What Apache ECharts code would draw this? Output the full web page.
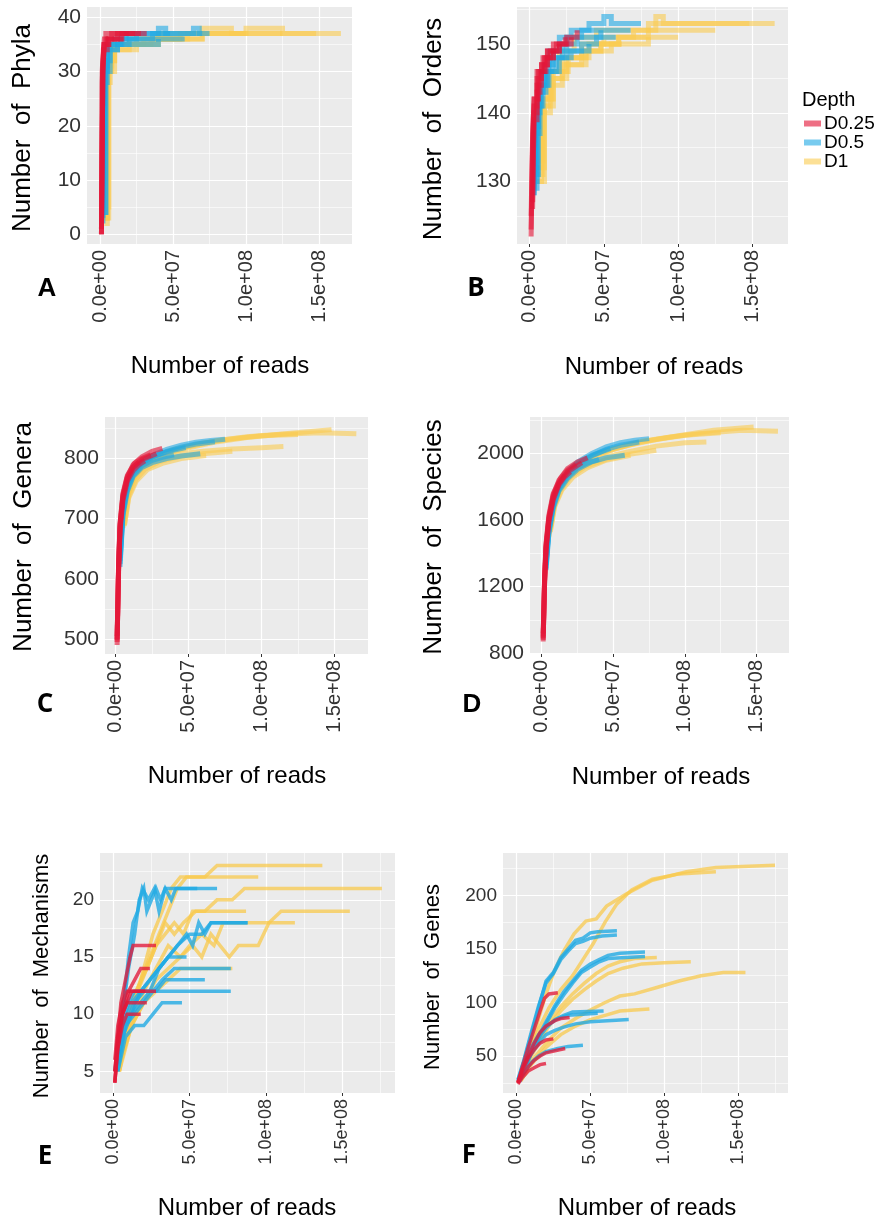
<!DOCTYPE html>
<html><head><meta charset="utf-8">
<script src="https://cdn.jsdelivr.net/npm/echarts@6/dist/echarts.min.js"></script>
<style>html,body{margin:0;padding:0;background:#fff}#c{width:875px;height:1220px}</style>
</head><body><div id="c"></div>
<script>
// ---------- DATA (x = millions of reads) ----------
const depths = ['D0.25', 'D0.5', 'D1'];
const xTickValues = [0, 50, 100, 150];

const phylaTicks = [0, 10, 20, 30, 40];
const phylaD025 = [
  [[1,0],[1.5,30],[2.5,35],[4,37],[32,37]],
  [[1,0],[1.5,28],[2.5,34],[5,36],[12,37],[28,37]],
  [[1,1],[2,30],[3,35],[6,36],[15,37],[24,37]],
  [[1,0],[2,32],[3,36],[8,37],[20,37]],
  [[1,1],[2,31],[3,35],[6,36],[16,36]]
];
const phylaD05 = [
  [[2,5],[3,30],[5,35],[10,36],[18,37],[40,38],[45,37],[75,37]],
  [[2,3],[3,28],[5,34],[12,35],[20,36],[36,37],[64,38],[68,37],[70,37]],
  [[2,4],[4,32],[7,35],[15,36],[58,36]],
  [[2,2],[3,31],[5,35],[14,36],[25,37],[48,37]],
  [[2,4],[4,30],[7,34],[12,35],[40,36]]
];
const phylaD1 = [
  [[3,3],[5,30],[8,35],[30,36],[60,37],[165,37]],
  [[3,4],[4,28],[7,34],[20,36],[70,37],[100,38],[125,37],[148,37]],
  [[3,2],[5,32],[10,35],[40,36],[70,38],[90,37],[125,37]],
  [[4,5],[6,30],[10,34],[25,36],[55,37],[100,37]],
  [[3,3],[5,31],[8,35],[35,36],[56,36]],
  [[3,3],[6,32],[10,35],[40,37],[62,37]]
];

const ordersTicks = [130, 140, 150];
const ordersD025 = [
  [[1,122],[2,135],[3,141],[5,145],[8,147],[12,149],[18,150],[25,151],[32,152]],
  [[1,123],[2,136],[3,142],[5,146],[9,148],[14,149],[20,150],[28,151]],
  [[1,125],[2,137],[3,142],[6,146],[10,148],[16,150],[24,151]],
  [[2,126],[3,140],[5,144],[8,147],[12,149],[20,150]],
  [[2,127],[3,139],[5,143],[7,146],[11,148],[16,149]]
];
const ordersD05 = [
  [[3,128],[4,138],[6,143],[9,146],[13,149],[20,151],[28,152],[40,153],[50,154],[55,153],[75,153]],
  [[3,129],[5,140],[7,144],[10,147],[16,149],[25,151],[35,152],[68,152]],
  [[3,130],[5,141],[8,144],[12,146],[18,148],[25,149],[35,150],[45,151],[58,151]],
  [[3,128],[4,137],[7,143],[11,146],[15,148],[22,150],[32,151],[48,152]],
  [[4,131],[6,141],[9,144],[13,146],[20,148],[28,149],[40,150]]
];
const ordersD1 = [
  [[5,132],[8,142],[12,146],[20,149],[30,151],[45,152],[80,153],[165,153]],
  [[5,130],[8,141],[13,145],[22,148],[35,150],[50,151],[70,152],[85,154],[90,153],[148,153]],
  [[6,133],[9,142],[15,146],[25,148],[40,150],[60,151],[80,152],[125,152]],
  [[6,131],[9,140],[14,144],[22,147],[35,149],[48,150],[60,151],[100,151]],
  [[6,132],[10,142],[16,146],[26,148],[38,149],[55,150],[80,151]],
  [[6,130],[10,141],[16,145],[25,147],[38,149],[48,150],[62,150]]
];

const generaTicks = [500, 600, 700, 800];
const generaD025 = [
  [[1,490],[2,620],[3,690],[5,740],[8,770],[12,790],[18,803],[25,812],[32,817]],
  [[1,495],[2,615],[3,685],[5,735],[8,765],[12,785],[18,798],[28,808]],
  [[1,500],[2,625],[3,692],[5,742],[8,772],[13,792],[18,800],[24,806]],
  [[1,505],[2,610],[3,680],[5,730],[8,762],[12,780],[16,790],[20,796]],
  [[1,498],[2,618],[3,688],[5,738],[8,768],[12,786],[16,794]]
];
const generaD05 = [
  [[3,640],[5,720],[8,758],[12,780],[18,795],[25,805],[35,815],[45,822],[55,827],[65,830],[75,832]],
  [[3,630],[5,712],[8,752],[12,776],[18,792],[25,802],[35,812],[45,819],[55,824],[68,828]],
  [[3,620],[5,705],[8,745],[12,770],[18,785],[25,793],[35,800],[45,804],[58,808]],
  [[3,635],[5,715],[8,755],[12,778],[18,793],[25,803],[35,811],[48,818]],
  [[3,625],[5,708],[8,748],[12,772],[18,788],[25,797],[32,802],[40,806]]
];
const generaD1 = [
  [[5,690],[8,740],[12,768],[18,788],[25,800],[35,810],[50,820],[70,830],[90,836],[110,840],[140,843],[165,841]],
  [[5,685],[8,735],[12,765],[18,785],[25,798],[35,808],[50,818],[70,828],[90,835],[120,842],[148,848]],
  [[5,695],[8,742],[12,770],[18,790],[25,802],[40,815],[60,826],[80,833],[100,838],[125,840]],
  [[6,700],[9,745],[13,770],[20,788],[30,800],[45,808],[60,812],[80,816],[100,818],[115,820]],
  [[6,690],[9,738],[14,766],[20,782],[30,795],[45,804],[60,808],[80,812]],
  [[6,688],[9,735],[14,762],[22,782],[32,792],[45,800],[62,805]]
];

const speciesTicks = [800, 1200, 1600, 2000];
const speciesD025 = [
  [[1,870],[2,1250],[3,1450],[5,1620],[8,1750],[12,1840],[18,1910],[25,1950],[32,1975]],
  [[1,880],[2,1230],[3,1430],[5,1600],[8,1730],[12,1820],[18,1890],[28,1945]],
  [[1,900],[2,1260],[3,1460],[5,1630],[8,1760],[13,1850],[18,1900],[24,1935]],
  [[1,920],[2,1220],[3,1420],[5,1590],[8,1720],[12,1810],[16,1860],[20,1890]],
  [[1,890],[2,1240],[3,1440],[5,1610],[8,1740],[12,1825],[16,1870]]
];
const speciesD05 = [
  [[3,1350],[5,1560],[8,1710],[12,1810],[18,1890],[25,1950],[35,2000],[45,2040],[55,2065],[65,2080],[75,2090]],
  [[3,1330],[5,1540],[8,1690],[12,1795],[18,1875],[25,1935],[35,1985],[45,2025],[55,2050],[68,2070]],
  [[3,1300],[5,1520],[8,1670],[12,1775],[18,1850],[25,1905],[35,1950],[45,1975],[58,1990]],
  [[3,1340],[5,1550],[8,1700],[12,1800],[18,1880],[25,1940],[35,1990],[48,2030]],
  [[3,1310],[5,1530],[8,1680],[12,1785],[18,1860],[25,1915],[32,1945],[40,1965]]
];
const speciesD1 = [
  [[5,1520],[8,1680],[12,1790],[18,1870],[25,1930],[35,1985],[50,2030],[70,2075],[90,2100],[110,2120],[140,2140],[165,2135]],
  [[5,1500],[8,1665],[12,1780],[18,1860],[25,1920],[35,1975],[50,2025],[70,2070],[90,2100],[120,2140],[148,2160]],
  [[5,1530],[8,1690],[12,1800],[18,1880],[25,1940],[40,2000],[60,2050],[80,2085],[100,2110],[125,2125]],
  [[6,1550],[9,1700],[13,1795],[20,1870],[30,1930],[45,1980],[60,2010],[80,2045],[100,2065],[115,2070]],
  [[6,1540],[9,1690],[14,1790],[20,1860],[30,1920],[45,1965],[60,1995],[80,2020]],
  [[6,1530],[9,1680],[14,1780],[22,1860],[32,1915],[45,1960],[62,1990]]
];

const mechTicks = [5, 10, 15, 20];
const mechD025 = [
  [[1,4],[3,8],[5,11],[8,13],[11,15],[13,16],[28,16]],
  [[1,5],[3,8],[6,10],[10,12],[14,13],[18,14],[24,14]],
  [[1,4],[3,7],[6,10],[9,11],[12,12],[28,12]],
  [[1,5],[3,8],[6,10],[9,11],[22,11]],
  [[1,4],[3,7],[6,9],[9,10],[18,10]],
  [[1,6],[3,9],[6,11],[9,12],[21,12]]
];
const mechD05 = [
  [[1,5],[5,9],[10,14],[14,17],[17,20],[20,21],[22,19],[25,20],[28,21],[31,20],[34,21],[38,20],[41,21],[68,21]],
  [[2,6],[6,10],[10,15],[13,18],[16,19],[19,21],[23,20],[27,21],[30,19],[34,21],[55,21]],
  [[2,5],[6,8],[12,10],[18,12],[24,13],[30,14],[36,15],[42,16],[48,17],[52,16],[56,18],[60,17],[64,18],[88,18]],
  [[2,6],[6,9],[12,10],[18,11],[24,12],[30,14],[36,15],[42,16],[50,17],[58,17],[64,18],[88,18]],
  [[2,5],[6,9],[12,11],[18,12],[24,13],[30,14],[36,15],[48,15]],
  [[3,6],[8,9],[14,10],[20,11],[26,12],[32,13],[40,14],[77,14]],
  [[3,5],[8,9],[14,11],[20,12],[28,12],[34,13],[60,13]],
  [[2,5],[6,9],[10,11],[14,12],[77,12]],
  [[3,5],[8,8],[14,9],[20,9],[26,10],[32,11],[45,11]]
];
const mechD1 = [
  [[3,5],[8,9],[12,11],[18,13],[24,15],[30,17],[36,19],[42,21],[48,22],[60,22],[68,23],[137,23]],
  [[3,5],[8,8],[14,11],[20,14],[26,17],[32,19],[38,21],[44,22],[95,22]],
  [[4,5],[9,9],[15,12],[22,14],[28,16],[34,17],[40,18],[46,17],[52,19],[60,19],[68,20],[78,20],[86,21],[176,21]],
  [[4,5],[10,9],[16,12],[22,14],[28,16],[34,18],[40,17],[46,18],[54,19],[87,19]],
  [[5,6],[12,9],[20,11],[28,13],[36,14],[44,15],[52,16],[58,15],[64,17],[70,16],[76,15],[82,16],[95,16],[102,18],[110,19],[155,19]],
  [[4,5],[12,9],[20,12],[28,14],[36,16],[44,15],[50,16],[58,17],[66,16],[72,18],[119,18]],
  [[5,6],[12,9],[20,11],[28,12],[36,13],[44,14],[78,14]]
];

const genesTicks = [50, 100, 150, 200];
const genesD025 = [
  [[1,25],[4,40],[8,58],[12,75],[16,92],[19,104],[22,108],[28,109]],
  [[1,26],[4,38],[8,50],[12,62],[16,72],[20,78],[26,83],[30,85],[36,86]],
  [[1,25],[4,32],[8,40],[12,46],[16,50],[20,53],[26,55],[33,57]],
  [[1,24],[4,30],[8,36],[12,39],[16,42],[20,43]],
  [[1,25],[4,36],[8,48],[12,56],[16,62],[20,65],[25,66]]
];
const genesD05 = [
  [[1,27],[5,45],[10,70],[15,95],[20,120],[25,128],[30,142],[35,150],[40,158],[45,160],[50,165],[55,166],[68,167]],
  [[1,28],[5,46],[10,72],[15,97],[20,118],[25,127],[30,140],[35,148],[40,155],[45,157],[50,160],[58,162],[68,163]],
  [[2,28],[8,48],[14,66],[20,82],[26,97],[32,110],[38,120],[44,130],[50,136],[56,140],[62,144],[70,146],[87,147]],
  [[2,27],[8,46],[14,64],[20,80],[26,95],[32,107],[38,118],[44,128],[50,133],[56,138],[62,141],[87,143]],
  [[2,27],[6,42],[10,55],[15,67],[20,76],[26,84],[32,88],[38,91],[59,92]],
  [[2,26],[6,40],[10,52],[15,62],[20,70],[26,74],[32,77],[40,80],[50,82],[76,84]],
  [[2,26],[6,36],[10,44],[15,50],[20,54],[28,57],[35,59],[45,60]],
  [[2,28],[6,44],[10,58],[15,70],[20,78],[28,85],[35,88],[55,90]]
];
const genesD1 = [
  [[1,25],[5,40],[10,60],[15,85],[20,108],[25,127],[32,148],[39,164],[47,176],[54,178],[61,190],[74,201],[92,214],[115,222],[135,226],[175,228]],
  [[2,28],[8,50],[15,75],[22,95],[30,112],[38,125],[45,140],[52,155],[60,175],[68,192],[78,205],[92,215],[110,220],[135,222]],
  [[2,27],[8,45],[15,62],[22,78],[30,92],[38,103],[46,112],[54,120],[62,127],[72,132],[85,136],[100,137],[118,138]],
  [[2,28],[8,48],[15,66],[22,82],[30,96],[38,108],[46,118],[54,127],[62,134],[70,138],[80,141],[95,142]],
  [[3,27],[10,45],[20,62],[30,76],[40,85],[50,93],[60,100],[70,106],[80,108],[95,114],[110,120],[125,125],[140,128],[155,128]],
  [[3,27],[10,42],[20,58],[30,70],[40,78],[50,84],[60,88],[70,92],[90,94]]
];

// ---------- LAYOUT / STYLE ----------
const colorTop = {'D0.25':'rgba(228,22,56,0.62)','D0.5':'rgba(30,168,228,0.6)','D1':'rgba(250,204,80,0.6)'};
const colorBot = {'D0.25':'rgba(226,24,56,0.78)','D0.5':'rgba(34,170,228,0.8)','D1':'rgba(248,202,78,0.75)'};
const FONT = '"Liberation Sans", Arial, sans-serif';

const panels = [
  {data:{'D0.25':phylaD025,'D0.5':phylaD05,'D1':phylaD1}, yTicks:phylaTicks, yMinor:[5,15,25,35],
   grid:{left:87,top:7,width:265,height:237}, x:[-8.9,172.6], y:[-1.8,41.9], step:'end', top:true,
   title:'Number  of  Phyla', tPos:[23,128], xt:[220,366], letter:'A', lPos:[47,289], lFont:FONT},
  {data:{'D0.25':ordersD025,'D0.5':ordersD05,'D1':ordersD1}, yTicks:ordersTicks, yMinor:[125,135,145,155],
   grid:{left:517,top:7,width:271,height:237}, x:[-8.5,174], y:[120.9,155.4], step:'end', top:true,
   title:'Number  of  Orders', tPos:[434,129], xt:[654,367], letter:'B', lPos:[476,289], lFont:'"Open Sans", sans-serif'},
  {data:{'D0.25':generaD025,'D0.5':generaD05,'D1':generaD1}, yTicks:generaTicks, yMinor:[550,650,750,850],
   grid:{left:105,top:417,width:263,height:237}, x:[-7.3,173], y:[475,869], step:false, top:true,
   title:'Number  of  Genera', tPos:[24,537], xt:[237,776], letter:'C', lPos:[45,705], lFont:'"Open Sans", sans-serif'},
  {data:{'D0.25':speciesD025,'D0.5':speciesD05,'D1':speciesD1}, yTicks:speciesTicks, yMinor:[1000,1400,1800,2200],
   grid:{left:530,top:417,width:259,height:237}, x:[-8.2,172.7], y:[795,2220], step:false, top:true,
   title:'Number  of  Species', tPos:[434,537], xt:[661,777], letter:'D', lPos:[472,705], lFont:FONT},
  {data:{'D0.25':mechD025,'D0.5':mechD05,'D1':mechD1}, yTicks:mechTicks, yMinor:[7.5,12.5,17.5,22.5],
   grid:{left:100,top:853,width:295,height:240}, x:[-8.7,184.6], y:[3.1,24.1], step:false, top:false,
   title:'Number  of  Mechanisms', tPos:[42,976], xt:[247,1208], letter:'E', lPos:[45,1157], lFont:'"Open Sans", sans-serif'},
  {data:{'D0.25':genesD025,'D0.5':genesD05,'D1':genesD1}, yTicks:genesTicks, yMinor:[25,75,125,175,225],
   grid:{left:503,top:853,width:285,height:240}, x:[-9.1,183.8], y:[15.5,239.5], step:false, top:false,
   title:'Number  of  Genes', tPos:[433,977], xt:[647,1208], letter:'F', lPos:[469,1156], lFont:'"Open Sans", sans-serif'}
];
const xMinor = [25, 75, 125, 175];

function sci(v){
  let s = (v*1e6).toExponential(1);
  return s.replace(/e([+-])(\d)$/, 'e$10$2');
}

const grids = [], xAxes = [], yAxes = [], series = [], graphics = [];
panels.forEach((p, i) => {
  grids.push(Object.assign({show:true, backgroundColor:'#EBEBEB', borderWidth:0}, p.grid));
  const tickFs = p.top ? 21 : 19;
  const xFs = p.top ? 20 : 18;
  xAxes.push({type:'value', gridIndex:i, min:p.x[0], max:p.x[1],
    axisLine:{show:false}, splitLine:{show:false},
    axisTick:{show:true, length:3, lineStyle:{color:'#333'}, customValues:xTickValues},
    axisLabel:{customValues:xTickValues, rotate:90, margin:6, color:'#333', fontSize:xFs, fontFamily:FONT, formatter:sci}});
  yAxes.push({type:'value', gridIndex:i, min:p.y[0], max:p.y[1],
    axisLine:{show:false}, splitLine:{show:false},
    axisTick:{show:true, length:3, lineStyle:{color:'#333'}, customValues:p.yTicks},
    axisLabel:{customValues:p.yTicks, margin:6, color:'#333', fontSize:tickFs, fontFamily:FONT, formatter:v => String(v)}});
  const ml = [];
  xTickValues.forEach(v => { if (v>=p.x[0] && v<=p.x[1]) ml.push({xAxis:v, lineStyle:{width:1.2}}); });
  xMinor.forEach(v => { if (v>=p.x[0] && v<=p.x[1]) ml.push({xAxis:v, lineStyle:{width:0.6}}); });
  p.yTicks.forEach(v => ml.push({yAxis:v, lineStyle:{width:1.2}}));
  p.yMinor.forEach(v => { if (v>=p.y[0] && v<=p.y[1]) ml.push({yAxis:v, lineStyle:{width:0.6}}); });
  series.push({type:'line', xAxisIndex:i, yAxisIndex:i, data:[], silent:true, z:1,
    markLine:{silent:true, symbol:'none', z:1, animation:false, label:{show:false},
      lineStyle:{color:'#FFFFFF', type:'solid', opacity:1}, emphasis:{disabled:true}, data:ml}});
  const cols = p.top ? colorTop : colorBot;
  ['D1','D0.5','D0.25'].forEach(d => {
    p.data[d].forEach(curve => {
      series.push({type:'line', name:d, xAxisIndex:i, yAxisIndex:i, data:curve, z:3,
        showSymbol:false, symbol:'none', step:p.step, smooth:false, animation:false, silent:true,
        color:cols[d], lineStyle:{color:cols[d], width:p.top?5:3.5, cap:'butt', join:'miter'}});
    });
  });
  graphics.push({type:'text', x:p.tPos[0], y:p.tPos[1], rotation:Math.PI/2,
    style:{text:p.title, fill:'#000', font:(p.top?'26px ':'22px ')+FONT, align:'center', verticalAlign:'middle'}});
  graphics.push({type:'text', x:p.xt[0], y:p.xt[1],
    style:{text:'Number of reads', fill:'#000', font:'24px '+FONT, align:'center', verticalAlign:'middle'}});
  graphics.push({type:'text', x:p.lPos[0], y:p.lPos[1],
    style:{text:p.letter, fill:'#000', font:'bold 26px '+p.lFont, align:'center', verticalAlign:'middle'}});
});
graphics.push({type:'text', x:802, y:100, style:{text:'Depth', fill:'#000', font:'20px '+FONT, align:'left', verticalAlign:'middle'}});

const chart = echarts.init(document.getElementById('c'), null, {renderer:'canvas'});
chart.setOption({
  animation:false,
  backgroundColor:'#fff',
  grid:grids, xAxis:xAxes, yAxis:yAxes, series:series, graphic:graphics,
  legend:{data:depths, orient:'vertical', left:799, top:109, icon:'rect', itemWidth:17, itemHeight:6,
    itemGap:0, selectedMode:false, textStyle:{fontSize:19, fontFamily:FONT, color:'#000', lineHeight:18, padding:[0,0,0,-2]}}
});
</script></body></html>
